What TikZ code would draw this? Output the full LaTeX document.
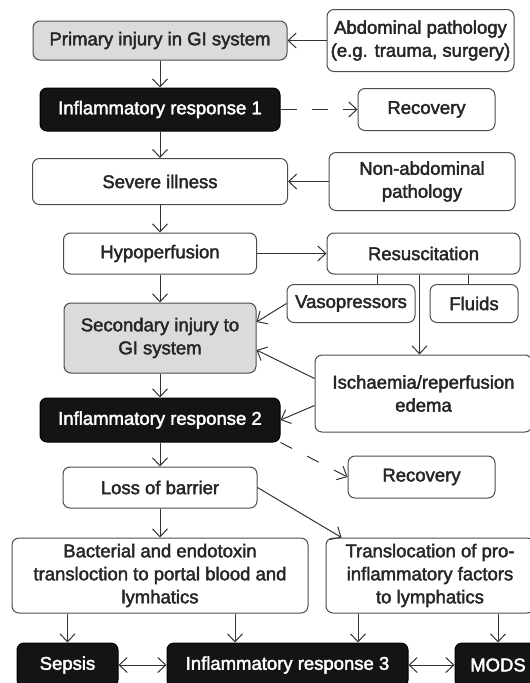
\documentclass[tikz,border=0pt]{standalone}
\usepackage{fontspec}
\setmainfont{Liberation Sans}[BoldFont=Liberation Sans, BoldFeatures={FakeBold=2.2}]
\usetikzlibrary{arrows.meta,positioning}

\begin{document}
\begin{tikzpicture}[x=1pt, y=-1pt,
  >={Straight Barb[length=8pt, width=15pt]},
  box/.style={draw=black!70, line width=1pt, rounded corners=7pt, align=center, inner sep=2pt, text=black!85, font=\fontsize{18.5}{23}\selectfont\bfseries},
  grey/.style={box, fill=black!14},
  dark/.style={box, draw=black, fill=black!92, text=white},
  arr/.style={->, draw=black!80, line width=1pt},
  darr/.style={<->, draw=black!80, line width=1pt},
  link/.style={draw=black!80, line width=1pt},
  recov/.style={arr, dash pattern=on 16pt off 15pt}]
  \useasboundingbox (0,0) rectangle (530,683);
  % main column
  \node[grey, minimum width=254pt, minimum height=39pt] (primary) at (160,40.5) {Primary injury in GI system};
  \node[dark, minimum width=240pt, minimum height=43pt] (ir1) at (160,109.5) {Inflammatory response 1};
  \node[box, minimum width=255pt, minimum height=46pt] (severe) at (160,181.5) {Severe illness};
  \node[box, minimum width=193pt, minimum height=41pt] (hypo) at (160,253.5) {Hypoperfusion};
  \node[grey, minimum width=192pt, minimum height=70pt] (secondary) at (160,338) {Secondary injury to\\GI system};
  \node[dark, minimum width=240pt, minimum height=44pt] (ir2) at (160,420) {Inflammatory response 2};
  \node[box, minimum width=194pt, minimum height=41pt] (loss) at (160,487.5) {Loss of barrier};
  \node[box, minimum width=296pt, minimum height=75pt] (bact) at (160,575.5) {Bacterial and endotoxin\\transloction to portal blood and\\lymhatics};
  % right column
  \node[box, minimum width=187pt, minimum height=62pt] (abdo) at (420.5,40.5) {Abdominal pathology\\(e.g. trauma, surgery)};
  \node[box, minimum width=137pt, minimum height=42pt] (rec1) at (426.5,109.5) {Recovery};
  \node[box, minimum width=186pt, minimum height=58pt] (nonabd) at (422,181.5) {Non-abdominal\\pathology};
  \node[box, minimum width=193pt, minimum height=41pt] (resus) at (423.5,253.5) {Resuscitation};
  \node[box, minimum width=128pt, minimum height=38pt] (vaso) at (351,303.5) {Vasopressors};
  \node[box, minimum width=88pt, minimum height=38pt] (fluids) at (474,303.5) {Fluids};
  \node[box, minimum width=217pt, minimum height=77pt] (isch) at (423.5,393.5) {Ischaemia/reperfusion\\edema};
  \node[box, minimum width=147pt, minimum height=42pt] (rec2) at (421.5,477) {Recovery};
  \node[box, minimum width=208pt, minimum height=75pt] (transl) at (430,575.5) {Translocation of pro-\\inflammatory factors\\to lymphatics};
  % bottom row
  \node[dark, minimum width=101pt, minimum height=44pt] (sepsis) at (67.5,665) {Sepsis};
  \node[dark, minimum width=241pt, minimum height=44pt] (ir3) at (287.5,665) {Inflammatory response 3};
  \node[dark, minimum width=86pt, minimum height=44pt] (mods) at (498,665) {MODS};

  \foreach \a/\b in {primary/ir1, ir1/severe, severe/hypo, hypo/secondary, secondary/ir2, ir2/loss, loss/bact, abdo/primary, nonabd/severe, hypo/resus}
    \draw[arr] (\a) -- (\b);
  \draw[recov] (ir1) -- (rec1);
  \draw[recov, dash pattern=on 13pt off 17pt] (ir2.south east) -- (rec2.west);
  \draw[link] ([xshift=26pt]vaso.north) -- ([xshift=26pt]vaso.north |- resus.south);
  \draw[link] ([xshift=-6pt]fluids.north) -- ([xshift=-6pt]fluids.north |- resus.south);
  \draw[arr] ([xshift=-4pt]resus.south) -- ([xshift=-4pt]resus.south |- isch.north);
  \draw[arr] (vaso.west) -- ([yshift=16pt]secondary.east);
  \draw[arr] ([yshift=15pt]isch.west) -- ([yshift=-12pt]secondary.east);
  \draw[arr] ([yshift=-12pt]isch.west) -- (ir2.east);
  \draw[arr] (loss.east) -- ([xshift=16pt]transl.north west);
  \draw[arr] (sepsis.north |- bact.south) -- (sepsis.north);
  \draw[arr] ([xshift=75pt]bact.south) -- ([xshift=75pt]bact.south |- ir3.north);
  \draw[arr] ([xshift=-72pt]transl.south) -- ([xshift=-72pt]transl.south |- ir3.north);
  \draw[arr] (mods.north |- transl.south) -- (mods.north);
  \draw[darr] (sepsis) -- (ir3);
  \draw[darr] (ir3) -- (mods);
\end{tikzpicture}
\end{document}
